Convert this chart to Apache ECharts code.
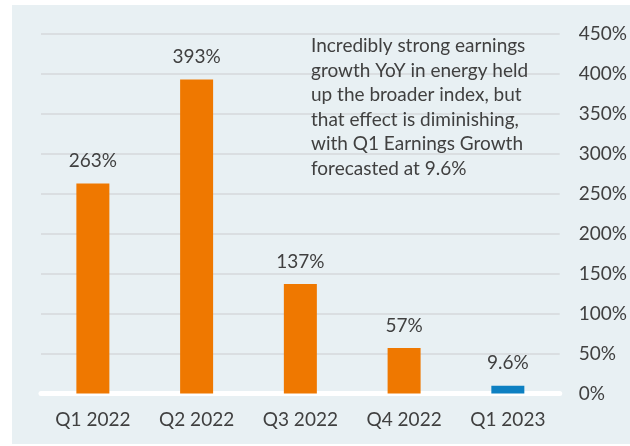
<!DOCTYPE html>
<html>
<head>
<meta charset="utf-8">
<script src="https://cdn.jsdelivr.net/npm/echarts@6/dist/echarts.min.js"></script>
<style>
  html, body { margin: 0; padding: 0; background: #ffffff; }
  #chart { width: 630px; height: 446px; }
</style>
</head>
<body>
<div id="chart"></div>
<script>
// Quarterly YoY earnings growth (%)
const quarters = ['Q1 2022', 'Q2 2022', 'Q3 2022', 'Q4 2022', 'Q1 2023'];
const growth = [263, 393, 137, 57, 9.6];
const barColors = ['#EF7800', '#EF7800', '#EF7800', '#EF7800', '#0D80C2'];
const noteLines = [
  'Incredibly strong earnings',
  'growth YoY in energy held',
  'up the broader index, but',
  'that effect is diminishing,',
  'with Q1 Earnings Growth',
  'forecasted at 9.6%'
];

const FONT = 'Lato';
const SIZE = 19;
const TEXT = '#404040';

const chart = echarts.init(document.getElementById('chart'), null, { renderer: 'canvas' });

chart.setOption({
  animation: false,
  backgroundColor: '#ffffff',
  textStyle: { fontFamily: FONT },
  graphic: [
    {
      type: 'rect',
      z: -10,
      shape: { x: 12, y: 5, width: 618, height: 439 },
      style: { fill: '#E8F0F3' },
      silent: true
    },
    {
      type: 'text',
      z: 100,
      left: 311,
      top: 34,
      style: {
        text: noteLines.join('\n'),
        font: SIZE + 'px ' + FONT,
        fill: TEXT,
        lineHeight: 24.5
      }
    }
  ],
  grid: { left: 41, right: 69, top: 34, bottom: 52.5, containLabel: false },
  xAxis: {
    type: 'category',
    data: quarters,
    axisLine: { show: true, lineStyle: { color: '#ffffff', width: 5 } },
    axisTick: { show: false },
    axisLabel: { color: TEXT, fontSize: SIZE, fontFamily: FONT, margin: 17 }
  },
  yAxis: {
    type: 'value',
    position: 'right',
    min: 0,
    max: 450,
    interval: 50,
    axisLine: { show: false },
    axisTick: { show: false },
    axisLabel: {
      color: TEXT, fontSize: SIZE, fontFamily: FONT,
      align: 'left', margin: 19,
      formatter: v => v + '%'
    },
    splitLine: { lineStyle: { color: '#D6D9DB', width: 1.5 } }
  },
  series: [{
    type: 'bar',
    data: growth.map((v, i) => ({ value: v, itemStyle: { color: barColors[i] } })),
    barWidth: 33,
    label: {
      show: true,
      position: 'top',
      distance: 13,
      color: TEXT,
      fontSize: SIZE,
      fontFamily: FONT,
      formatter: p => p.value + '%'
    }
  }]
});
</script>
</body>
</html>
